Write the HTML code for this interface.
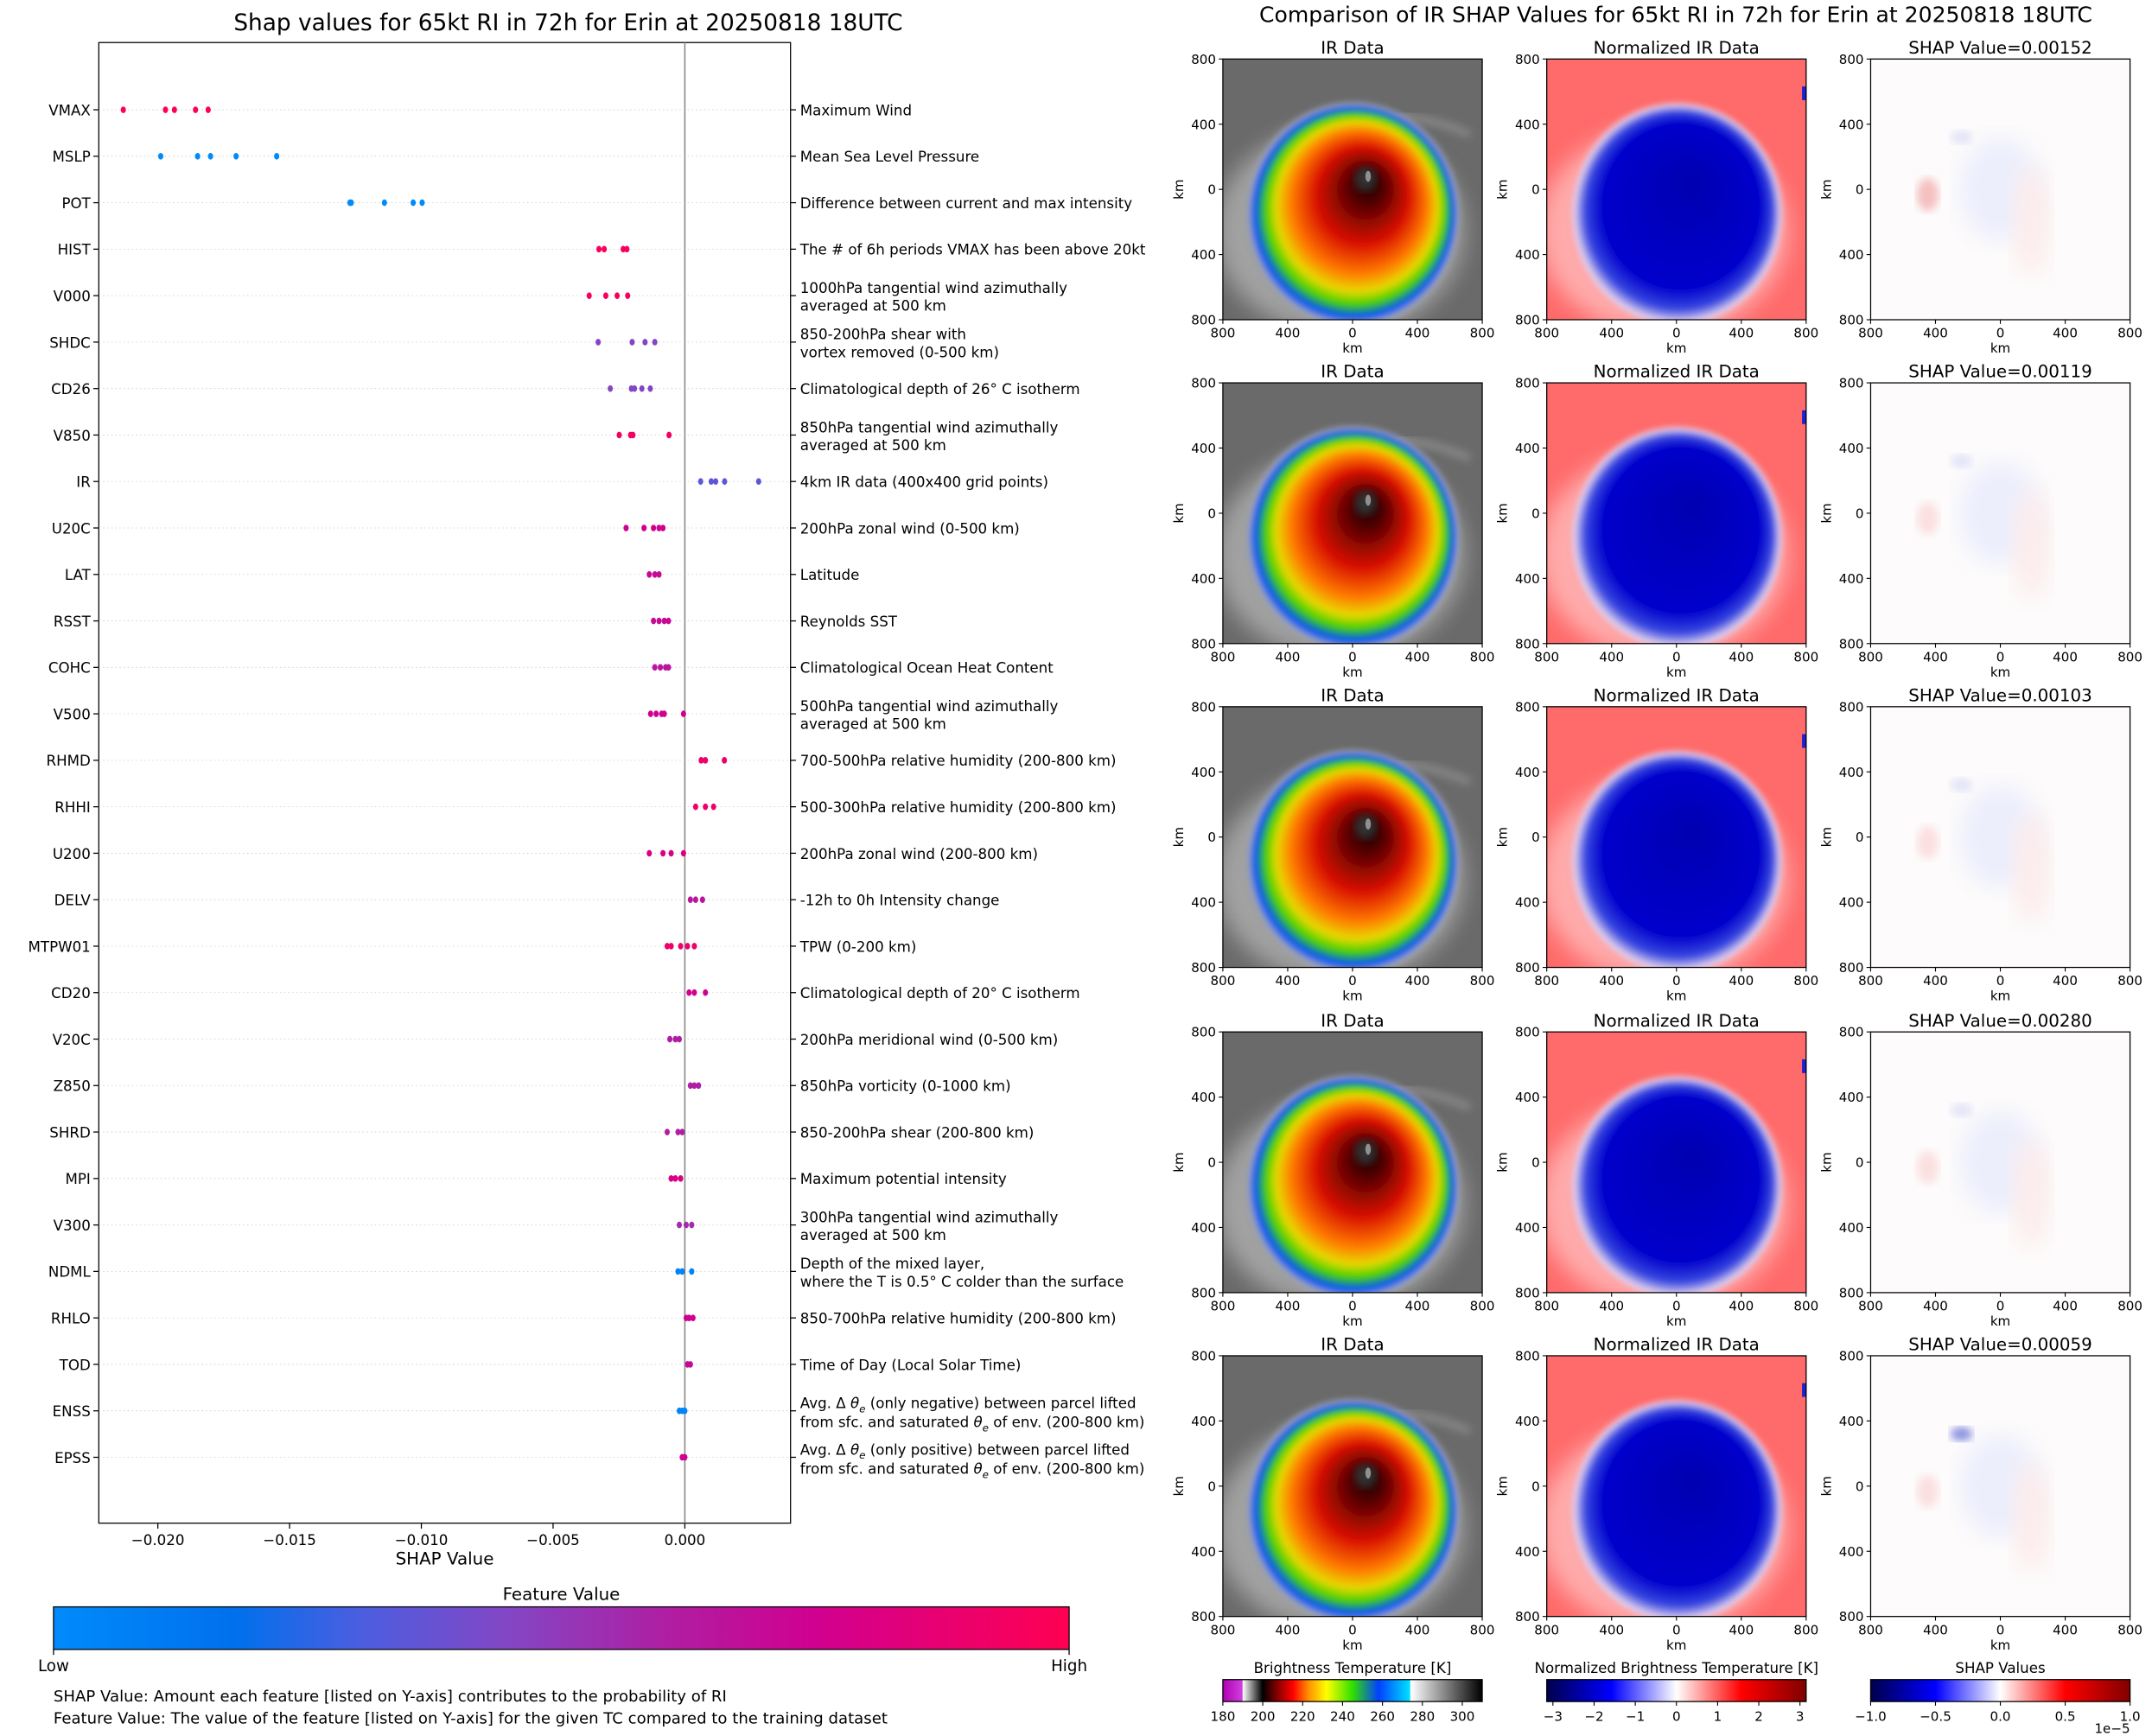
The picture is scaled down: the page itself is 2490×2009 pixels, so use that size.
<!DOCTYPE html>
<html><head><meta charset="utf-8">
<style>
html,body{margin:0;padding:0;background:#fff;}
svg{display:block;font-family:"DejaVu Sans","Liberation Sans",sans-serif;}
</style></head>
<body>
<svg id="fig" xmlns="http://www.w3.org/2000/svg" width="2490" height="2009" viewBox="0 0 1568 1265.1">
<defs>
  <linearGradient id="fvGrad" x1="0" x2="1" y1="0" y2="0">
    <stop offset="0" stop-color="#008bfb"/><stop offset="0.18" stop-color="#0070ec"/>
    <stop offset="0.3" stop-color="#4a5ee0"/><stop offset="0.45" stop-color="#8446c4"/>
    <stop offset="0.6" stop-color="#ae1fa3"/><stop offset="0.75" stop-color="#d10090"/>
    <stop offset="1" stop-color="#ff0052"/>
  </linearGradient>
  <linearGradient id="btGrad" x1="0" x2="1" y1="0" y2="0">
    <stop offset="0" stop-color="#b000b0"/><stop offset="0.075" stop-color="#d040e0"/>
    <stop offset="0.077" stop-color="#ffffff"/><stop offset="0.153" stop-color="#000000"/>
    <stop offset="0.2" stop-color="#700000"/><stop offset="0.27" stop-color="#ff0000"/>
    <stop offset="0.33" stop-color="#ff9000"/><stop offset="0.4" stop-color="#ffff00"/>
    <stop offset="0.5" stop-color="#30e000"/><stop offset="0.6" stop-color="#0040ff"/>
    <stop offset="0.72" stop-color="#00e0ff"/><stop offset="0.725" stop-color="#ffffff"/>
    <stop offset="1" stop-color="#000000"/>
  </linearGradient>
  <linearGradient id="seisGrad" x1="0" x2="1" y1="0" y2="0">
    <stop offset="0" stop-color="#00004c"/><stop offset="0.25" stop-color="#0000ff"/>
    <stop offset="0.5" stop-color="#ffffff"/><stop offset="0.75" stop-color="#ff0000"/>
    <stop offset="1" stop-color="#800000"/>
  </linearGradient>
  <radialGradient id="irStorm" cx="0.5" cy="0.5" r="0.5" fx="0.58" fy="0.35">
    <stop offset="0" stop-color="#150000"/><stop offset="0.15" stop-color="#500000"/>
    <stop offset="0.42" stop-color="#d81000"/><stop offset="0.62" stop-color="#ff7a00"/>
    <stop offset="0.74" stop-color="#e8d800"/><stop offset="0.83" stop-color="#40d000"/>
    <stop offset="0.91" stop-color="#0050ff"/><stop offset="0.97" stop-color="#b0b0b0"/>
    <stop offset="1" stop-color="#707070" stop-opacity="0"/>
  </radialGradient>
  <radialGradient id="nStorm" cx="0.5" cy="0.5" r="0.5" fx="0.58" fy="0.35">
    <stop offset="0" stop-color="#0000b0"/><stop offset="0.72" stop-color="#0000cc"/>
    <stop offset="0.86" stop-color="#3848e0"/><stop offset="0.95" stop-color="#e8d8f0"/>
    <stop offset="1" stop-color="#ff7070" stop-opacity="0"/>
  </radialGradient>
  <filter id="blur2"><feGaussianBlur stdDeviation="2"/></filter>
  <filter id="blur3"><feGaussianBlur stdDeviation="3"/></filter>
  <filter id="blur8"><feGaussianBlur stdDeviation="8"/></filter>
</defs>
<g id="left"></g>
<g id="right"></g>
</svg>
<script>
const features = ["VMAX","MSLP","POT","HIST","V000","SHDC","CD26","V850","IR","U20C","LAT","RSST","COHC","V500","RHMD","RHHI","U200","DELV","MTPW01","CD20","V20C","Z850","SHRD","MPI","V300","NDML","RHLO","TOD","ENSS","EPSS"];
const descriptions = [["Maximum Wind"],["Mean Sea Level Pressure"],["Difference between current and max intensity"],["The # of 6h periods VMAX has been above 20kt"],["1000hPa tangential wind azimuthally","averaged at 500 km"],["850-200hPa shear with","vortex removed (0-500 km)"],["Climatological depth of 26° C isotherm"],["850hPa tangential wind azimuthally","averaged at 500 km"],["4km IR data (400x400 grid points)"],["200hPa zonal wind (0-500 km)"],["Latitude"],["Reynolds SST"],["Climatological Ocean Heat Content"],["500hPa tangential wind azimuthally","averaged at 500 km"],["700-500hPa relative humidity (200-800 km)"],["500-300hPa relative humidity (200-800 km)"],["200hPa zonal wind (200-800 km)"],["-12h to 0h Intensity change"],["TPW (0-200 km)"],["Climatological depth of 20° C isotherm"],["200hPa meridional wind (0-500 km)"],["850hPa vorticity (0-1000 km)"],["850-200hPa shear (200-800 km)"],["Maximum potential intensity"],["300hPa tangential wind azimuthally","averaged at 500 km"],["Depth of the mixed layer,","where the T is 0.5° C colder than the surface"],["850-700hPa relative humidity (200-800 km)"],["Time of Day (Local Solar Time)"],["THETA_NEG"],["THETA_POS"]];
const shapValues = [
 [-0.02131,-0.01971,-0.01937,-0.01857,-0.01809],
 [-0.01989,-0.01849,-0.0180,-0.01703,-0.01549],
 [-0.01271,-0.01266,-0.0114,-0.01031,-0.00997],
 [-0.00326,-0.00306,-0.00234,-0.0022],
 [-0.00363,-0.003,-0.00257,-0.00217],
 [-0.00329,-0.002,-0.00151,-0.00114],
 [-0.00283,-0.00203,-0.00191,-0.00163,-0.00131],
 [-0.00249,-0.00206,-0.00197,-0.0006],
 [0.0006,0.001,0.00117,0.00151,0.0028],
 [-0.00223,-0.00155,-0.00119,-0.00098,-0.00083],
 [-0.00135,-0.00114,-0.00098],
 [-0.00119,-0.00098,-0.00078,-0.00062],
 [-0.00114,-0.00093,-0.00073,-0.00062],
 [-0.0013,-0.00109,-0.00088,-0.00078,-0.00005],
 [0.00062,0.00078,0.0015],
 [0.00041,0.00078,0.00109],
 [-0.00135,-0.00083,-0.00052,-0.00005],
 [0.00021,0.00041,0.00067],
 [-0.00067,-0.00052,-0.00016,0.0001,0.00036],
 [0.00016,0.00036,0.00078],
 [-0.00057,-0.00036,-0.00021],
 [0.00021,0.00036,0.00052],
 [-0.00067,-0.00026,-0.0001],
 [-0.00052,-0.00036,-0.00016],
 [-0.00021,0.00005,0.00026],
 [-0.00026,-0.0001,0.00026],
 [0.00005,0.00016,0.00031],
 [0.0001,0.00021],
 [-0.00021,-0.0001,0],
 [-0.0001,0]
];
const featureValues = [1.0,0.0,0.0,0.95,0.95,0.45,0.45,0.95,0.35,0.75,0.7,0.7,0.65,0.75,0.9,0.9,0.8,0.65,0.9,0.75,0.6,0.6,0.6,0.8,0.55,0.05,0.75,0.7,0.05,0.75];
const xTicks = [-0.020,-0.015,-0.010,-0.005,0.000];
const xTickLabels = ["−0.020","−0.015","−0.010","−0.005","0.000"];
const shapTitles = ["SHAP Value=0.00152","SHAP Value=0.00119","SHAP Value=0.00103","SHAP Value=0.00280","SHAP Value=0.00059"];
const kmTicks = ["800","400","0","400","800"];
const btTicks = [180,200,220,240,260,280,300];
const nTicks = [-3,-2,-1,0,1,2,3];
const sTicks = [-1.0,-0.5,0.0,0.5,1.0];

const NS = "http://www.w3.org/2000/svg";
function mk(parent, tag, attrs, text){
  const e = document.createElementNS(NS, tag);
  for (const k in attrs) e.setAttribute(k, attrs[k]);
  if (text !== undefined) e.textContent = text;
  parent.appendChild(e); return e;
}
const L = document.getElementById('left');
const AX = {l:72, r:576, t:31, b:1110};
const xScale = v => 499 + v*19200;
const yScale = i => 80 + i*(1062-80)/29;
const cmap = [[0,[0,139,251]],[0.18,[0,112,236]],[0.3,[74,94,224]],[0.45,[132,70,196]],[0.6,[174,31,163]],[0.75,[209,0,144]],[1,[255,0,82]]];
function color(f){
  for (let i=1;i<cmap.length;i++){ if (f<=cmap[i][0]){ const a=cmap[i-1],b=cmap[i],t=(f-a[0])/(b[0]-a[0]);
    return 'rgb('+a[1].map((c,j)=>Math.round(c+(b[1][j]-c)*t)).join(',')+')'; } }
  return 'rgb(255,0,82)';
}
let t = mk(L,'text',{x:414,y:22,'text-anchor':'middle','font-size':16.6});
t.textContent = "Shap values for 65kt RI in 72h for Erin at 20250818 18UTC";
 
let fr = mk(L,'rect',{x:AX.l,y:AX.t,width:AX.r-AX.l,height:AX.b-AX.t,fill:'none',stroke:'#000','stroke-width':0.8});
 
let zl = mk(L,'line',{x1:xScale(0),x2:xScale(0),y1:AX.t,y2:AX.b,stroke:'#888','stroke-width':1});
 
const FS = 10.5;
features.forEach((f,i)=>{
  const y = yScale(i);
  const g = mk(L,'line',{x1:AX.l,x2:AX.r,y1:y,y2:y,stroke:'#ccc','stroke-width':0.5,'stroke-dasharray':'1,2'});
   
  mk(L,'line',{x1:AX.l-4,x2:AX.l,y1:y,y2:y,stroke:'#000','stroke-width':0.8});
  mk(L,'line',{x1:AX.r,x2:AX.r+4,y1:y,y2:y,stroke:'#000','stroke-width':0.8});
  const lab = mk(L,'text',{x:AX.l-6,y:y+4,'text-anchor':'end','font-size':FS},f);
   
  const d = descriptions[i];
  const dg = mk(L,'text',{x:583,'font-size':FS});
   
  if (f==="ENSS"||f==="EPSS"){
    const sign = f==="ENSS" ? "negative" : "positive";
    const t1 = mk(dg,'tspan',{x:583,y:y-2});
    t1.textContent = "Avg. Δ ";
    mk(t1,'tspan',{'font-style':'italic'},"θ");
    mk(t1,'tspan',{'font-size':7.5,dy:3,'font-style':'italic'},"e");
    mk(t1,'tspan',{dy:-3}," (only "+sign+") between parcel lifted");
    const t2 = mk(dg,'tspan',{x:583,y:y+12});
    t2.textContent = "from sfc. and saturated ";
    mk(t2,'tspan',{'font-style':'italic'},"θ");
    mk(t2,'tspan',{'font-size':7.5,dy:3,'font-style':'italic'},"e");
    mk(t2,'tspan',{dy:-3}," of env. (200-800 km)");
  } else if (d.length===1){
    mk(dg,'tspan',{x:583,y:y+4},d[0]);
  } else {
    mk(dg,'tspan',{x:583,y:y-2},d[0]);
    mk(dg,'tspan',{x:583,y:y+11},d[1]);
  }
  shapValues[i].forEach(v=>{
    const c = mk(L,'ellipse',{cx:xScale(v),cy:y,rx:1.9,ry:2.4,fill:color(featureValues[i])});
     
  });
});
xTicks.forEach((v,i)=>{
  mk(L,'line',{x1:xScale(v),x2:xScale(v),y1:AX.b,y2:AX.b+4,stroke:'#000','stroke-width':0.8});
  const tl = mk(L,'text',{x:xScale(v),y:AX.b+16,'text-anchor':'middle','font-size':FS},xTickLabels[i]);
   
});
let xt = mk(L,'text',{x:324,y:1140,'text-anchor':'middle','font-size':12.5},"SHAP Value");
 
let fvt = mk(L,'text',{x:409,y:1166,'text-anchor':'middle','font-size':12.5},"Feature Value");
 
let cb = mk(L,'rect',{x:39,y:1171,width:740,height:31,fill:'url(#fvGrad)',stroke:'#000','stroke-width':0.8});
 
mk(L,'line',{x1:39,x2:39,y1:1202,y2:1206,stroke:'#000','stroke-width':0.8});
mk(L,'line',{x1:779,x2:779,y1:1202,y2:1206,stroke:'#000','stroke-width':0.8});
let lo = mk(L,'text',{x:39,y:1218,'text-anchor':'middle','font-size':11.5},"Low");
 
let hi = mk(L,'text',{x:779,y:1218,'text-anchor':'middle','font-size':11.5},"High");
 
let n1 = mk(L,'text',{x:39,y:1240,'font-size':11.4},"SHAP Value: Amount each feature [listed on Y-axis] contributes to the probability of RI");
 
let n2 = mk(L,'text',{x:39,y:1256,'font-size':11.4},"Feature Value: The value of the feature [listed on Y-axis] for the given TC compared to the training dataset");
 

const R = document.getElementById('right');
let rt = mk(R,'text',{x:1221,y:16,'text-anchor':'middle','font-size':15.8},"Comparison of IR SHAP Values for 65kt RI in 72h for Erin at 20250818 18UTC");
 
const colX = [891,1127,1363];
const rowY = [43,279,515,752,988];
const W=189, H=190;
const panelTitles = ["IR Data","Normalized IR Data"];
let clipId=0;
function drawIR(g,x,y){
  mk(g,'rect',{x:x,y:y,width:W,height:H,fill:'#6a6a6a'});
  mk(g,'path',{d:`M${x+60} ${y+60} Q${x+110} ${y+25} ${x+180} ${y+55}`,stroke:'#8a8a8a','stroke-width':5,fill:'none',filter:'url(#blur3)'});
  mk(g,'ellipse',{cx:x+W*0.45,cy:y+H*0.66,rx:W*0.48,ry:H*0.4,fill:'#c8c8c8',opacity:0.6,filter:'url(#blur8)'});
  mk(g,'ellipse',{cx:x+W*0.5,cy:y+H*0.6,rx:W*0.42,ry:H*0.44,fill:'url(#irStorm)',filter:'url(#blur2)'});
  mk(g,'ellipse',{cx:x+W*0.55,cy:y+H*0.46,rx:8,ry:9,fill:'#303030',filter:'url(#blur3)'});
  mk(g,'ellipse',{cx:x+W*0.56,cy:y+H*0.45,rx:2,ry:4,fill:'#909090'});
}
function drawNorm(g,x,y){
  mk(g,'rect',{x:x,y:y,width:W,height:H,fill:'#ff6a6a'});
  mk(g,'ellipse',{cx:x+W*0.45,cy:y+H*0.66,rx:W*0.48,ry:H*0.4,fill:'#ffd8d8',opacity:0.6,filter:'url(#blur8)'});
  mk(g,'ellipse',{cx:x+W*0.5,cy:y+H*0.6,rx:W*0.42,ry:H*0.44,fill:'url(#nStorm)',filter:'url(#blur2)'});
  mk(g,'rect',{x:x+W-3,y:y+20,width:3,height:10,fill:'#2020d0'});
}
function drawShap(g,x,y,k){
  mk(g,'rect',{x:x,y:y,width:W,height:H,fill:'#fdfbfb'});
  mk(g,'ellipse',{cx:x+W*0.5,cy:y+H*0.5,rx:30,ry:38,fill:'#eceefc',filter:'url(#blur8)'});
  mk(g,'ellipse',{cx:x+W*0.62,cy:y+H*0.62,rx:14,ry:40,fill:'#fcecec',filter:'url(#blur8)'});
  mk(g,'ellipse',{cx:x+W*0.22,cy:y+H*0.52,rx:8,ry:12,fill:k===0?'#f4c0c0':'#fbe0e0',filter:'url(#blur3)'});
  mk(g,'ellipse',{cx:x+W*0.35,cy:y+H*0.3,rx:8,ry:5,fill:k===4?'#8890e0':'#e2e4f8',filter:'url(#blur3)'});
}
rowY.forEach((y,r)=>{
  colX.forEach((x,c)=>{
    const g = mk(R,'g',{});
     
    clipId++;
    const cp = mk(g,'clipPath',{id:'cp'+clipId}); mk(cp,'rect',{x:x,y:y,width:W,height:H});
    const ig = mk(g,'g',{'clip-path':'url(#cp'+clipId+')'});
    if (c===0) drawIR(ig,x,y); else if (c===1) drawNorm(ig,x,y); else drawShap(ig,x,y,r);
    mk(g,'rect',{x:x,y:y,width:W,height:H,fill:'none',stroke:'#000','stroke-width':0.8});
    const pt = mk(g,'text',{x:x+W/2,y:y-4,'text-anchor':'middle','font-size':12.5}, c<2?panelTitles[c]:shapTitles[r]);
     
    kmTicks.forEach((lab,i)=>{
      const yy = y + i*H/4, xx = x + i*W/4;
      mk(g,'line',{x1:x-3,x2:x,y1:yy,y2:yy,stroke:'#000','stroke-width':0.7});
      mk(g,'text',{x:x-5,y:yy+3.5,'text-anchor':'end','font-size':9.5},lab);
      mk(g,'line',{x1:xx,x2:xx,y1:y+H,y2:y+H+3,stroke:'#000','stroke-width':0.7});
      mk(g,'text',{x:xx,y:y+H+13,'text-anchor':'middle','font-size':9.5},lab);
    });
    mk(g,'text',{x:x+W/2,y:y+H+24,'text-anchor':'middle','font-size':9.5},"km");
    mk(g,'text',{x:x-29,y:y+H/2,'text-anchor':'middle','font-size':9.5,transform:`rotate(-90 ${x-29} ${y+H/2})`},"km");
  });
});
const cbs = [
 {x:891,title:"Brightness Temperature [K]",fill:'url(#btGrad)',ticks:btTicks,min:180,max:310,fmt:v=>String(v),name:'brightness-colorbar'},
 {x:1127,title:"Normalized Brightness Temperature [K]",fill:'url(#seisGrad)',ticks:nTicks,min:-3.15,max:3.15,fmt:v=>v<0?'−'+(-v):String(v),name:'normalized-colorbar'},
 {x:1363,title:"SHAP Values",fill:'url(#seisGrad)',ticks:sTicks,min:-1,max:1,fmt:v=>(v<0?'−':'')+Math.abs(v).toFixed(1),name:'shap-colorbar'}
];
cbs.forEach(o=>{
  const g = mk(R,'g',{});
   
  mk(g,'text',{x:o.x+W/2,y:1219,'text-anchor':'middle','font-size':10.5},o.title);
  mk(g,'rect',{x:o.x,y:1224,width:W,height:16,fill:o.fill,stroke:'#000','stroke-width':0.8});
  o.ticks.forEach(v=>{
    const xx = o.x + (v-o.min)/(o.max-o.min)*W;
    mk(g,'line',{x1:xx,x2:xx,y1:1240,y2:1243,stroke:'#000','stroke-width':0.7});
    mk(g,'text',{x:xx,y:1254,'text-anchor':'middle','font-size':9.5},o.fmt(v));
  });
});
let ex = mk(R,'text',{x:1552,y:1263,'text-anchor':'end','font-size':9.5},"1e−5");
 
</script>
</body></html>
